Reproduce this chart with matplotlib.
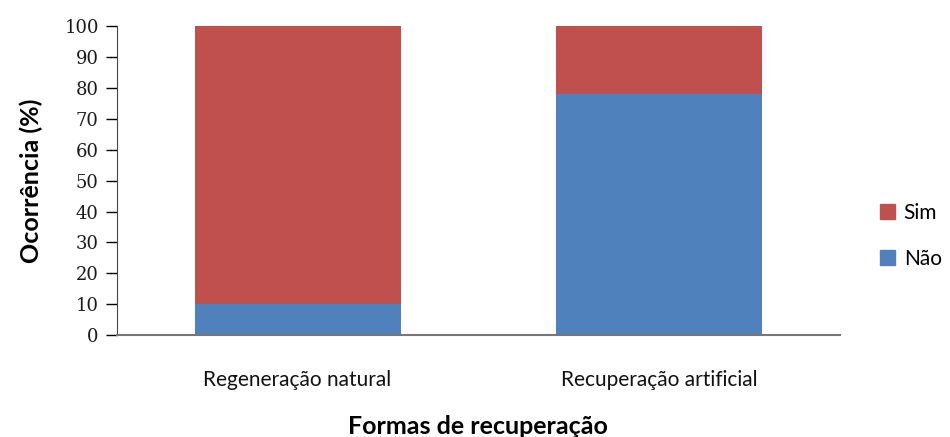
import matplotlib
matplotlib.use("Agg")
import matplotlib.pyplot as plt
from matplotlib.patches import Patch

categories = ["Regeneração natural", "Recuperação artificial"]
nao = [10, 78]
sim = [90, 22]
yticks = [0, 10, 20, 30, 40, 50, 60, 70, 80, 90, 100]

blue = "#4f81bd"
red = "#c0504d"

fig = plt.figure(figsize=(9.5, 4.37), dpi=100)
ax = fig.add_axes([0.123, 0.233, 0.761, 0.7075])

x = range(len(categories))
ax.bar(x, nao, width=0.57, color=blue, label="Não")
ax.bar(x, sim, width=0.57, bottom=nao, color=red, label="Sim")

ax.set_xlim(-0.5, 1.5)
ax.set_ylim(0, 100)
ax.set_yticks(yticks)
ax.set_yticklabels([str(v) for v in yticks], family="DejaVu Serif",
                   fontsize=13, color="#1a1a1a")
ax.set_xticks(list(x))
ax.set_xticklabels(categories, family="Lato", fontsize=15, color="#111111")
ax.tick_params(axis="x", length=0, pad=25)
ax.tick_params(axis="y", length=8, width=1, direction="out", pad=5)

for s in ["top", "right"]:
    ax.spines[s].set_visible(False)
ax.spines["left"].set_color("#444444")
ax.spines["bottom"].set_color("#777777")
ax.spines["bottom"].set_linewidth(1.5)

ax.set_ylabel("Ocorrência (%)", family="Lato", fontsize=18, fontweight="bold",
              labelpad=15)
ax.set_xlabel("Formas de recuperação", family="Lato", fontsize=18,
              fontweight="bold", labelpad=18)

handles = [Patch(color=red, label="Sim"), Patch(color=blue, label="Não")]
fig.legend(handles=handles, loc="center left", bbox_to_anchor=(0.926, 0.461),
           frameon=False, prop={"family": "Lato", "size": 15}, borderpad=0,
           borderaxespad=0, handlelength=0.75, handleheight=0.75,
           handletextpad=0.4, labelspacing=1.25)

fig.savefig("out.png", dpi=100)
